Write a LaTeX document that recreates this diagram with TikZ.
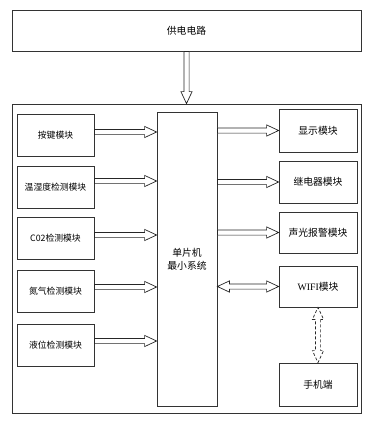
\documentclass[tikz,border=0pt]{standalone}
\usepackage{fontspec}
\newfontfamily\cjk{Noto Sans CJK SC}
\newfontfamily\lser{Liberation Serif}
\usetikzlibrary{calc}
\tikzset{
  box/.style={draw=black!80, line width=0.8pt, fill=white, inner sep=0pt, align=center,
    font=\cjk\fontsize{9.8}{13}\selectfont},
  lbox/.style={box, minimum width=77pt, minimum height=42pt, font=\cjk\fontsize{8.8}{11}\selectfont},
  rbox/.style={box, minimum width=78pt, minimum height=42pt},
  arr/.style={draw=black!85, line width=0.7pt, fill=white, line join=miter,
    to path={let \p1=($(\tikztotarget)-(\tikztostart)$), \n1={veclen(\x1,\y1)}, \n2={atan2(\y1,\x1)}, \n3={\n1-12pt} in
      {[shift={(\tikztostart)}, rotate=\n2]
       (0pt,2.6pt) -- (\n3,2.6pt) -- (\n3,5.6pt) -- (\n1,0pt) -- (\n3,-5.6pt) -- (\n3,-2.6pt) -- (0pt,-2.6pt) -- cycle}}},
  darr/.style={draw=black!85, line width=0.7pt, fill=white, line join=miter,
    to path={let \p1=($(\tikztotarget)-(\tikztostart)$), \n1={veclen(\x1,\y1)}, \n2={atan2(\y1,\x1)}, \n3={\n1-12pt} in
      {[shift={(\tikztostart)}, rotate=\n2]
       (12pt,2.6pt) -- (\n3,2.6pt) -- (\n3,5.6pt) -- (\n1,0pt) -- (\n3,-5.6pt) -- (\n3,-2.6pt)
       -- (12pt,-2.6pt) -- (12pt,-5.6pt) -- (0pt,0pt) -- (12pt,5.6pt) -- cycle}}},
}
\begin{document}
\begin{tikzpicture}[x=1pt,y=-1pt]
\useasboundingbox (0,0) rectangle (372,426);
% outer frame
\node[draw=black!80, line width=0.8pt, minimum width=349pt, minimum height=309pt, inner sep=0pt] (outer) at (186.5,258.5) {};
\node[box, minimum width=349pt, minimum height=41pt] (pwr) at (186.5,30.5) {供电电路};
\node[box, minimum width=60pt, minimum height=294pt] (mcu) at (187,259) {单片机\\最小系统};
% left modules
\node[lbox] (k1) at (55.5,135) {按键模块};
\node[lbox] (k2) at (55.5,187) {温湿度检测模块};
\node[lbox] (k3) at (55.5,238) {C02检测模块};
\node[lbox] (k4) at (55.5,291) {氮气检测模块};
\node[lbox] (k5) at (55.5,345) {液位检测模块};
% right modules
\node[rbox, minimum height=43pt] (r1) at (318,130.5) {显示模块};
\node[rbox] (r2) at (318,182) {继电器模块};
\node[rbox, minimum height=41pt] (r3) at (318,232.5) {声光报警模块};
\node[rbox, minimum height=41pt] (r4) at (318,286.5) {{\lser WIFI}模块};
\node[rbox, minimum height=43pt] (r5) at (318,384.5) {手机端};
% power arrow
\draw[arr] (pwr.south) to (pwr.south |- outer.north);
% input arrows
\foreach \k/\s in {k1/3,k2/6,k3/3,k4/4,k5/4}{
  \coordinate (a\k) at ([yshift=\s pt]\k.east);
  \draw[arr] (a\k) to (a\k -| mcu.west);
}
% output arrows
\foreach \r in {r1,r2,r3}{
  \draw[arr] (\r.west -| mcu.east) to (\r.west);
}
\draw[darr] (r4.west -| mcu.east) to (r4.west);
\draw[darr, dashed, dash pattern=on 3pt off 2pt] (r4.south) to (r5.north);
\end{tikzpicture}
\end{document}
